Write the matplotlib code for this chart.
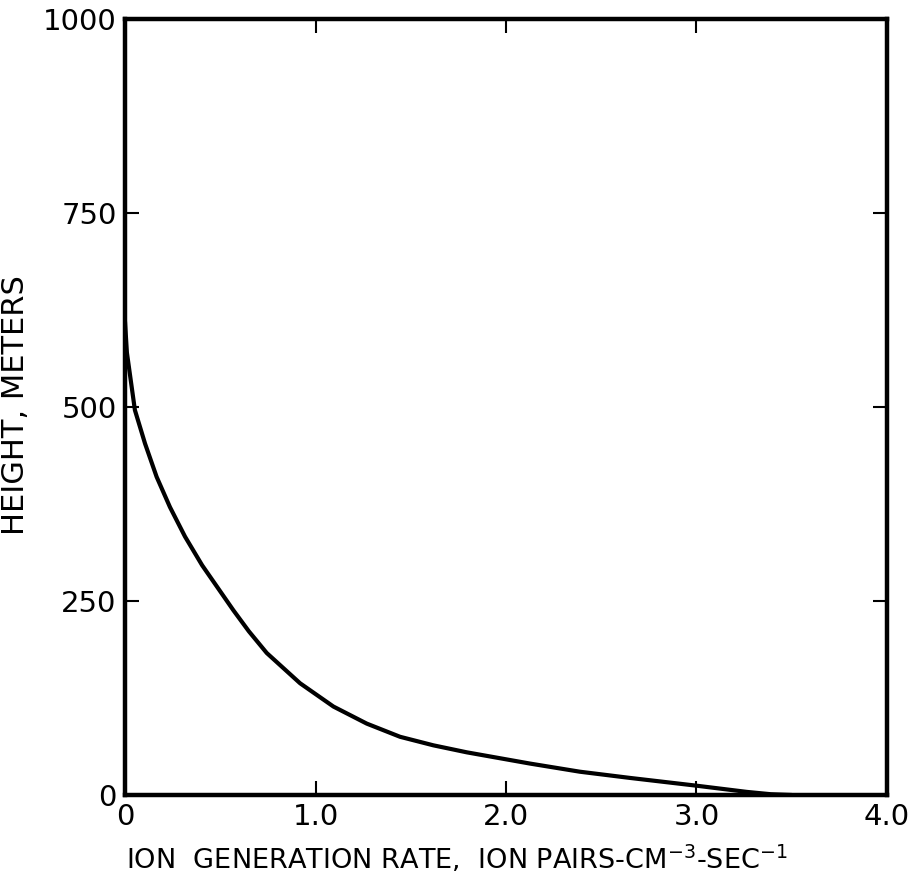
import numpy as np
import matplotlib
matplotlib.use("Agg")
import matplotlib.pyplot as plt

# ion generation rate (ion pairs / cm^3 / s) vs height (m)
rate = [0.0, 0.01, 0.052, 0.105, 0.166, 0.236, 0.315, 0.405, 0.569, 0.65,
        0.744, 0.919, 1.094, 1.269, 1.444, 1.619, 1.794, 1.92, 2.126, 2.388,
        2.651, 3.0, 3.264, 3.39, 3.5]
height = [610, 570, 496, 453, 410, 371, 333, 296, 238, 211,
          183, 144, 114, 92, 75, 64, 55, 49.5, 40.5, 30,
          22, 12, 4, 1, 0]

xticks = [0, 1, 2, 3, 4]
xticklabels = ["0", "1.0", "2.0", "3.0", "4.0"]
yticks = [0, 250, 500, 750, 1000]
yticklabels = ["0", "250", "500", "750", "1000"]

plt.rcParams['font.family'] = ['DejaVu Sans']
plt.rcParams['mathtext.default'] = 'regular'

fig = plt.figure(figsize=(9.12, 8.82), dpi=100)
ax = fig.add_axes([125 / 912, 1 - 795 / 882, 762 / 912, 776 / 882])

ax.plot(rate, height, color='black', linewidth=3.0, solid_capstyle='round',
        solid_joinstyle='round')

ax.set_xlim(0, 4)
ax.set_ylim(0, 1000)
for s in ax.spines.values():
    s.set_linewidth(3.2)

ax.set_xticks(xticks)
ax.set_xticklabels(xticklabels)
ax.set_yticks(yticks)
ax.set_yticklabels(yticklabels)
ax.tick_params(direction='in', length=10, width=1.5, top=True, right=True,
               labelsize=21, pad=6)

ax.set_xlabel("ION  GENERATION RATE,  ION PAIRS-CM$^{-3}$-SEC$^{-1}$",
              fontsize=19.5)
ax.xaxis.set_label_coords(0.436, -0.062)
ax.set_ylabel("HEIGHT, METERS", fontsize=22)
ax.yaxis.set_label_coords(-0.125, 0.502)

fig.savefig("out.png", dpi=100)
